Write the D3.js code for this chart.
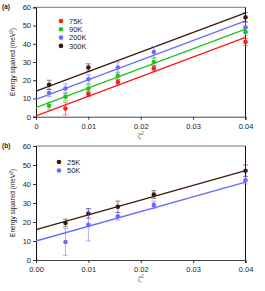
<!DOCTYPE html>
<html>
<head>
<meta charset="utf-8">
<script src="https://cdn.jsdelivr.net/npm/d3@7"></script>
<style>
  body { margin: 0; background: #fff; }
  text { font-family: "Liberation Sans", Arial, sans-serif; }
</style>
</head>
<body>
<svg id="chart" width="265" height="291"></svg>
<script>
// zeta^2 positions
var zeta2 = [0.0025, 0.005625, 0.01, 0.015625, 0.0225, 0.04];

// panel (a) series: [x, y, err]
var a75K  = [[0.005625, 4.5, 3.5], [0.01, 12.5, 1.5], [0.015625, 19, 1.5], [0.0225, 26.5, 1.5], [0.04, 41, 2]];
var a90K  = [[0.0025, 6, 2], [0.005625, 11, 2], [0.01, 15.5, 2], [0.015625, 22.5, 2], [0.0225, 30, 2], [0.04, 46.5, 2]];
var a200K = [[0.0025, 13, 2], [0.005625, 15.5, 2.5], [0.01, 20.5, 2.5], [0.015625, 27, 3], [0.0225, 35.5, 3], [0.04, 49, 3]];
var a300K = [[0.0025, 17.5, 2.5], [0.01, 27, 2], [0.04, 54.5, 2.5]];
// fit lines [intercept, value at 0.04]
var aFits = [[0.5, 43.5], [5, 48], [9.5, 52.5], [14, 57]];

// panel (b) series
var b25K = [[0.005625, 19.5, 2], [0.01, 24.5, 2.5], [0.015625, 28, 3], [0.0225, 34.5, 2], [0.04, 47, 3]];
var b50K = [[0.005625, 9.5, 7], [0.01, 18.5, 8.5], [0.015625, 23, 2], [0.0225, 29, 2], [0.04, 42, 2]];
var bFits = [[16, 47], [10, 41]];

var yTicks = [0, 10, 20, 30, 40, 50, 60];
var xTicks = [0, 0.01, 0.02, 0.03, 0.04];

var cRed = "#ff1a1a", cGreen = "#1fc41f", cBlue = "#6b6bff", cBrown = "#3b1a0c";

var svg = d3.select("#chart");

function drawPanel(cfg) {
    var x = d3.scaleLinear().domain([0, 0.04]).range([36, 245.5]);
    var y = d3.scaleLinear().domain([0, 60]).range([cfg.bottom, cfg.top]);
    var g = svg.append("g");

    // frame top/right
    g.append("line").attr("x1", x(0)).attr("x2", x(0.04)).attr("y1", y(60)).attr("y2", y(60))
        .attr("stroke", "#777").attr("stroke-width", 1);
    g.append("line").attr("x1", x(0.04)).attr("x2", x(0.04)).attr("y1", y(60)).attr("y2", y(0) + 3)
        .attr("stroke", "#111").attr("stroke-width", 1);

    var xa = g.append("g").attr("transform", "translate(0," + y(0) + ")")
        .call(d3.axisBottom(x).tickValues(xTicks).tickSize(3).tickPadding(4)
            .tickFormat(d => cfg.xfmt(d)));
    xa.select(".domain").attr("stroke", "#444");
    var ya = g.append("g").attr("transform", "translate(" + x(0) + ",0)")
        .call(d3.axisLeft(y).tickValues(yTicks).tickSize(3).tickPadding(2));
    ya.select(".domain").attr("stroke", "#111");
    g.selectAll(".tick text").attr("font-size", 7.5).attr("fill", "#222")
        .style("font-family", "Liberation Sans, Arial, sans-serif");
    g.selectAll(".tick line").attr("stroke", "#333");

    // fit lines
    cfg.series.forEach(function(s) {
        g.append("line")
            .attr("x1", x(0)).attr("y1", y(s.fit[0]))
            .attr("x2", x(0.04)).attr("y2", y(s.fit[1]))
            .attr("stroke", s.color).attr("stroke-width", 1.3);
    });

    cfg.series.forEach(function(s) {
        var eb = g.append("g").attr("stroke", s.color).attr("stroke-opacity", 0.55).attr("stroke-width", 1);
        s.data.forEach(function(d) {
            eb.append("line").attr("x1", x(d[0])).attr("x2", x(d[0]))
                .attr("y1", y(d[1] - d[2])).attr("y2", y(d[1] + d[2]));
            [d[1] - d[2], d[1] + d[2]].forEach(function(v) {
                eb.append("line").attr("x1", x(d[0]) - 2.5).attr("x2", x(d[0]) + 2.5)
                    .attr("y1", y(v)).attr("y2", y(v));
            });
        });
        g.selectAll(null).data(s.data).enter().append("circle")
            .attr("cx", d => x(d[0])).attr("cy", d => y(d[1]))
            .attr("r", 2.3).attr("fill", s.color);
    });

    // legend
    cfg.series.forEach(function(s, i) {
        var ly = cfg.legendY + i * cfg.legendStep;
        g.append("circle").attr("cx", cfg.legendX).attr("cy", ly).attr("r", 2.3).attr("fill", s.color);
        g.append("text").attr("x", cfg.legendX + 8).attr("y", ly + 2.6)
            .attr("font-size", 7.5).attr("fill", "#222").text(s.name);
    });

    // labels
    g.append("text").attr("x", 2).attr("y", y(60) + 2).attr("font-size", 6.5)
        .attr("font-weight", "bold").attr("fill", "#222").text(cfg.tag);
    var cy = (y(0) + y(60)) / 2;
    var t = g.append("text").attr("transform", "translate(15," + cy + ") rotate(-90)")
        .attr("text-anchor", "middle").attr("font-size", 6.5).attr("fill", "#222");
    t.append("tspan").text("Energy squared (meV");
    t.append("tspan").attr("baseline-shift", "super").attr("font-size", 4.5).text("2");
    t.append("tspan").text(")");
    var xl = g.append("text").attr("x", (x(0) + x(0.04)) / 2).attr("y", y(0) + 21)
        .attr("text-anchor", "middle").attr("font-size", 7.5).attr("fill", "#666");
    xl.append("tspan").text("ζ");
    xl.append("tspan").attr("baseline-shift", "super").attr("font-size", 5).text("2");
}

drawPanel({
    top: 7.3, bottom: 116.7, tag: "(a)",
    xfmt: d => d === 0 ? "0" : d3.format(".2f")(d),
    legendX: 61, legendY: 21, legendStep: 8.3,
    series: [
        { name: "75K", color: cRed, data: a75K, fit: aFits[0] },
        { name: "90K", color: cGreen, data: a90K, fit: aFits[1] },
        { name: "200K", color: cBlue, data: a200K, fit: aFits[2] },
        { name: "300K", color: cBrown, data: a300K, fit: aFits[3] }
    ]
});

drawPanel({
    top: 146, bottom: 260, tag: "(b)",
    xfmt: d => d3.format(".2f")(d),
    legendX: 59, legendY: 162, legendStep: 8.5,
    series: [
        { name: "25K", color: cBrown, data: b25K, fit: bFits[0] },
        { name: "50K", color: cBlue, data: b50K, fit: bFits[1] }
    ]
});
</script>
</body>
</html>
